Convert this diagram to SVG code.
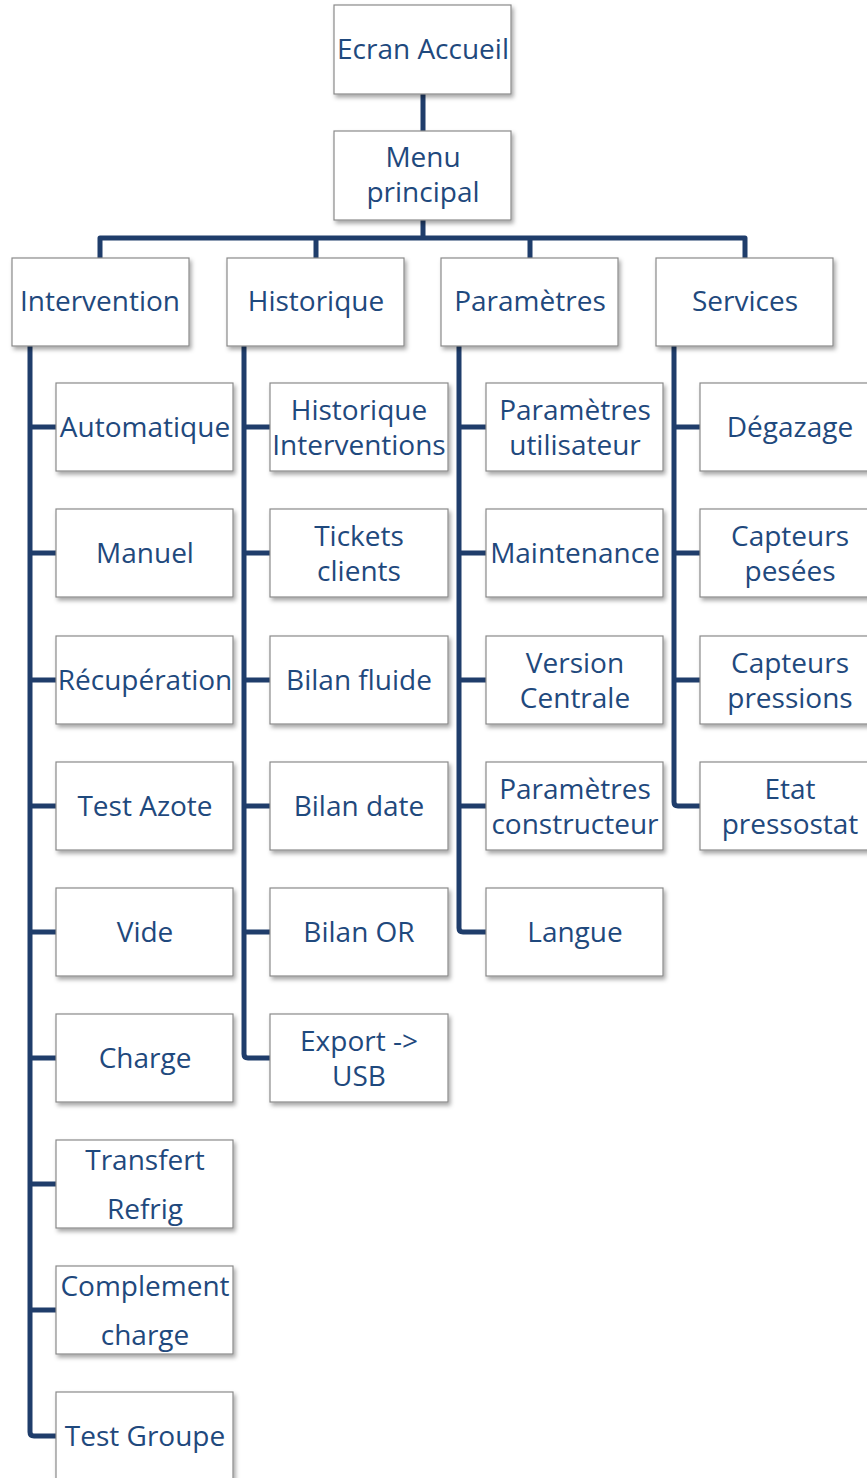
<svg xmlns="http://www.w3.org/2000/svg" width="867" height="1478" viewBox="0 0 867 1478">
<defs>
<filter id="sh" x="-10%" y="-10%" width="130%" height="130%">
<feDropShadow dx="2" dy="3" stdDeviation="2" flood-color="#000" flood-opacity="0.35"/>
</filter>
<style>
.b{fill:#fff;stroke:#8a8a8a;stroke-width:1.2;filter:url(#sh)}
.t{font-family:"Open Sans","Liberation Sans",sans-serif;font-size:28px;fill:#1F497D;text-anchor:middle}
.c{fill:none;stroke:#1F3D6B;stroke-width:5;stroke-linejoin:round}
</style>
</defs>
<rect width="867" height="1478" fill="#fff"/>
<g id="connectors">
<path class="c" d="M423 94V238M100 258V238H745V258M316 238V258M530 238V258"/>
<path class="c" d="M30 346V1432Q30 1436 34 1436H56M30 427H56M30 553H56M30 680H56M30 806H56M30 932H56M30 1058H56M30 1184H56M30 1310H56"/>
<path class="c" d="M244 346V1054Q244 1058 248 1058H270M244 427H270M244 553H270M244 680H270M244 806H270M244 932H270"/>
<path class="c" d="M459 346V928Q459 932 463 932H486M459 427H486M459 553H486M459 680H486M459 806H486"/>
<path class="c" d="M674 346V802Q674 806 678 806H700M674 427H700M674 553H700M674 680H700"/>
</g>
<g id="n-ecran"><rect class="b" x="334" y="5" width="177" height="89"/><text class="t" x="423" y="59">Ecran Accueil</text></g>
<g id="n-menu"><rect class="b" x="334" y="131" width="177" height="89"/><text class="t" x="423" y="167">Menu</text><text class="t" x="423" y="202">principal</text></g>
<g id="n-intervention"><rect class="b" x="12" y="258" width="177" height="88"/><text class="t" x="100" y="311">Intervention</text></g>
<g id="n-historique"><rect class="b" x="227" y="258" width="177" height="88"/><text class="t" x="316" y="311">Historique</text></g>
<g id="n-parametres"><rect class="b" x="441" y="258" width="177" height="88"/><text class="t" x="530" y="311">Paramètres</text></g>
<g id="n-services"><rect class="b" x="656" y="258" width="177" height="88"/><text class="t" x="745" y="311">Services</text></g>

<g id="n-automatique"><rect class="b" x="56" y="383" width="177" height="88"/><text class="t" x="145" y="437">Automatique</text></g>
<g id="n-manuel"><rect class="b" x="56" y="509" width="177" height="88"/><text class="t" x="145" y="563">Manuel</text></g>
<g id="n-recuperation"><rect class="b" x="56" y="636" width="177" height="88"/><text class="t" x="145" y="690">Récupération</text></g>
<g id="n-testazote"><rect class="b" x="56" y="762" width="177" height="88"/><text class="t" x="145" y="816">Test Azote</text></g>
<g id="n-vide"><rect class="b" x="56" y="888" width="177" height="88"/><text class="t" x="145" y="942">Vide</text></g>
<g id="n-charge"><rect class="b" x="56" y="1014" width="177" height="88"/><text class="t" x="145" y="1068">Charge</text></g>
<g id="n-transfert"><rect class="b" x="56" y="1140" width="177" height="88"/><text class="t" x="145" y="1170">Transfert</text><text class="t" x="145" y="1219">Refrig</text></g>
<g id="n-complement"><rect class="b" x="56" y="1266" width="177" height="88"/><text class="t" x="145" y="1296">Complement</text><text class="t" x="145" y="1345">charge</text></g>
<g id="n-testgroupe"><rect class="b" x="56" y="1392" width="177" height="100"/><text class="t" x="145" y="1446">Test Groupe</text></g>

<g id="n-histinter"><rect class="b" x="270" y="383" width="178" height="88"/><text class="t" x="359" y="420">Historique</text><text class="t" x="359" y="455">Interventions</text></g>
<g id="n-tickets"><rect class="b" x="270" y="509" width="178" height="88"/><text class="t" x="359" y="546">Tickets</text><text class="t" x="359" y="581">clients</text></g>
<g id="n-bilanfluide"><rect class="b" x="270" y="636" width="178" height="88"/><text class="t" x="359" y="690">Bilan fluide</text></g>
<g id="n-bilandate"><rect class="b" x="270" y="762" width="178" height="88"/><text class="t" x="359" y="816">Bilan date</text></g>
<g id="n-bilanor"><rect class="b" x="270" y="888" width="178" height="88"/><text class="t" x="359" y="942">Bilan OR</text></g>
<g id="n-export"><rect class="b" x="270" y="1014" width="178" height="88"/><text class="t" x="359" y="1051">Export -&gt;</text><text class="t" x="359" y="1086">USB</text></g>

<g id="n-paramuser"><rect class="b" x="486" y="383" width="177" height="88"/><text class="t" x="575" y="420">Paramètres</text><text class="t" x="575" y="455">utilisateur</text></g>
<g id="n-maintenance"><rect class="b" x="486" y="509" width="177" height="88"/><text class="t" x="575" y="563">Maintenance</text></g>
<g id="n-version"><rect class="b" x="486" y="636" width="177" height="88"/><text class="t" x="575" y="673">Version</text><text class="t" x="575" y="708">Centrale</text></g>
<g id="n-paramconst"><rect class="b" x="486" y="762" width="177" height="88"/><text class="t" x="575" y="799">Paramètres</text><text class="t" x="575" y="834">constructeur</text></g>
<g id="n-langue"><rect class="b" x="486" y="888" width="177" height="88"/><text class="t" x="575" y="942">Langue</text></g>

<g id="n-degazage"><rect class="b" x="700" y="383" width="177" height="88"/><text class="t" x="790" y="437">Dégazage</text></g>
<g id="n-capteurspesees"><rect class="b" x="700" y="509" width="177" height="88"/><text class="t" x="790" y="546">Capteurs</text><text class="t" x="790" y="581">pesées</text></g>
<g id="n-capteurspressions"><rect class="b" x="700" y="636" width="177" height="88"/><text class="t" x="790" y="673">Capteurs</text><text class="t" x="790" y="708">pressions</text></g>
<g id="n-etat"><rect class="b" x="700" y="762" width="177" height="88"/><text class="t" x="790" y="799">Etat</text><text class="t" x="790" y="834">pressostat</text></g>
</svg>
